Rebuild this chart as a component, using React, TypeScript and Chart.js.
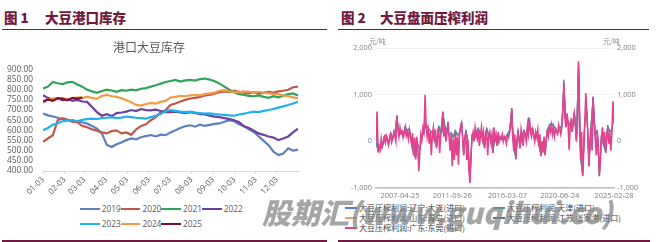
import React, { useEffect, useRef } from "react";
import { Chart, registerables } from "chart.js";

Chart.register(...registerables);

// ---------------- Figure 1: 港口大豆库存 (weekly, day offset from 01-03) ----------------
const inventoryTitle = "港口大豆库存";
const inventoryDays = [
  0, 7, 14, 21, 28, 35, 42, 49, 56, 63, 70, 77, 84, 91, 98, 105, 112, 119, 126, 133,
  140, 147, 154, 161, 168, 175, 182, 189, 196, 203, 210, 217, 224, 231, 238, 245, 252,
  259, 266, 273, 280, 287, 294, 301, 308, 315, 322, 329, 336, 343, 350, 357, 364,
];
const monthTickDays = [0, 31, 59, 90, 120, 151, 181, 212, 243, 273, 304, 334];
const monthTickLabels = ["01-03", "02-03", "03-03", "04-03", "05-03", "06-03", "07-03", "08-03", "09-03", "10-03", "11-03", "12-03"];
const inventoryYears = ["2019", "2020", "2021", "2022", "2023", "2024", "2025"];

const inv2019 = [
  683, 674, 668, 662, 655, 651, 648, 644, 640, 633,
  622, 608, 585, 528, 518, 532, 540, 552, 560, 556,
  566, 572, 577, 570, 579, 576, 590, 600, 612, 620,
  625, 618, 628, 622, 627, 632, 634, 642, 650, 645,
  630, 620, 605, 592, 570, 548, 527, 495, 478, 486,
  512, 500, 505,
];
const inv2020 = [
  543, 560, 576, 650, 660, 652, 642, 640, 622, 615,
  605, 598, 590, 585, 596, 600, 585, 590, 578, 605,
  622, 630, 650, 665, 688, 700, 725, 732, 742, 750,
  757, 760, 765, 772, 775, 780, 788, 792, 788, 795,
  790, 785, 782, 788, 780, 785, 790, 786, 792, 795,
  800, 812, 815,
];
const inv2021 = [
  806, 815, 838, 832, 828, 836, 839, 826, 815, 800,
  792, 785, 794, 800, 796, 790, 798, 795, 800, 797,
  805, 808, 815, 822, 830, 838, 843, 848, 840, 846,
  848, 845, 852, 855, 850, 842, 830, 815, 800, 788,
  778, 775, 770, 768, 772, 765, 760, 768, 762, 770,
  778, 782, 772,
];
const inv2022 = [
  773, 760, 752, 758, 748, 755, 745, 750, 742, 740,
  715, 690, 672, 680, 670, 685, 688, 692, 700, 695,
  705, 700, 698, 702, 695, 690, 690, 692, 688, 685,
  690, 686, 680, 678, 672, 668, 665, 660, 655, 650,
  640, 620, 612, 598, 585, 578, 570, 565, 552, 560,
  570, 590, 608,
];
const inv2023 = [
  601, 612, 628, 635, 645, 648, 650, 645, 652, 655,
  658, 656, 660, 662, 665, 660, 663, 668, 665, 662,
  660, 658, 665, 672, 680, 695, 700, 696, 692, 690,
  692, 688, 685, 682, 684, 680, 678, 676, 674, 672,
  678, 682, 688, 692, 690, 696, 700, 705, 712, 718,
  725, 732, 740,
];
const inv2024 = [
  745, 752, 758, 755, 760, 752, 758, 762, 760, 765,
  760, 755, 770, 775, 768, 765, 758, 748, 738, 725,
  722, 730, 735, 732, 740, 745, 762, 765, 770, 768,
  772, 775, 772, 778, 782, 786, 795, 798, 792, 790,
  788, 792, 790, 786, 790, 785, 782, 780, 778, 772,
  768, 762, 758,
];
const inv2025 = [740, 752, 745, 758, 755, 748, 760, 755, 762];
const inventoryValues = [inv2019, inv2020, inv2021, inv2022, inv2023, inv2024, inv2025];
const inventoryColors = ["#5b7fbf", "#c0584a", "#2fa35a", "#7040a0", "#1fb0ee", "#f39a4a", "#7a0f35"];

// ---------------- Figure 2: 大豆盘面压榨利润 (元/吨) ----------------
const profitTickIndex = [23, 73, 126, 176, 228];
const profitTickLabels = ["2007-04-25", "2011-09-26", "2016-03-07", "2020-06-24", "2025-02-28"];
const profitNames = [
  "大豆压榨利润:辽宁:大连(进口)",
  "大豆压榨利润:天津(进口)",
  "大豆压榨利润:山东:青岛(进口)",
  "大豆压榨利润:江苏:张家港(进口)",
  "大豆压榨利润:广东:东莞(进口)",
];
// 广东:东莞 — every period
const profitDongguan = [
  0, 640, -240, -100, -180, 50, -120, -50, 80, -30,
  100, 20, -80, 60, 150, -20, 50, 200, 120, 0,
  535, 250, 100, 300, 180, 220, 80, 150, 300, 120,
  200, 50, 250, 100, -50, 180, -300, 80, -390, 100,
  -100, -640, -200, 150, 50, 300, 200, 1000, 350, 100,
  250, -50, 200, -300, 150, 300, 0, 250, -150, 100,
  300, -250, 150, 200, 640, 100, 300, 0, 200, 425,
  100, -200, 150, -535, 50, -400, 200, -300, 100, -500,
  150, 300, 390, 100, -300, 50, 200, -400, 0, -600,
  -890, -300, 100, 200, 0, 300, 150, 50, 250, -100,
  100, 300, 50, 200, -150, 100, 250, -300, 100, 200,
  0, 150, -250, 300, 50, 150, -100, 200, 0, 100,
  50, 150, 0, 100, 50, -50, 120, 80, 200, 300,
  715, 100, -200, 150, -390, 0, 200, 50, -150, 250,
  100, -100, 200, 150, 0, 300, 150, 500, 200, 100,
  250, 150, 0, 200, 100, 250, -100, 150, -320, 0,
  -200, 100, -300, 50, 200, 100, 300, 200, 350, 150,
  300, 100, 250, 200, 150, 350, 250, 150, 300, 600,
  1250, 500, 300, 600, 400, -180, 300, 500, 200, 450,
  600, 350, 0, 300, 1715, 500, -390, 200, -750, -200,
  400, 1035, 600, 200, -535, 0, 300, -200, 930, 400,
  100, -300, 200, -100, -750, -400, 100, 300, -100, 200,
  -250, 100, 300, -50, 178, -200, 200, 860, 600,
];
// other ports — every second period
const profitDalian = [
  20, -200, -150, -80, 120, 150, -40, 200, 90, 160,
  560, 150, 220, 120, 330, 240, 280, 0, -250, -330,
  -60, -150, 100, 250, 380, 290, 250, 200, 50, -100,
  340, 200, 600, 340, 250, 150, 200, 100, 250, 150,
  200, 420, -250, 250, 50, -820, 150, 50, 200, 300,
  150, 100, -100, 300, 150, 50, -200, 100, -50, 50,
  100, 60, 100, 170, 250, 650, -150, -330, 250, -100,
  160, 250, 60, 500, 250, 300, 50, 160, -50, -280,
  -150, -250, 250, 350, 400, 350, 300, 200, 300, 350,
  1320, 350, 450, 350, 250, 650, 50, 1680, -350, -700,
  450, 650, -480, 350, 960, 150, 250, -700, 150, -50,
  -200, 350, 220, 250, 640,
];
const profitTianjin = [
  -20, -220, -170, -100, 100, 120, -60, 170, 70, 140,
  510, 120, 200, 100, 310, 220, 260, -30, -280, -360,
  -80, -180, 70, 220, 360, 270, 220, 170, 20, -130,
  320, 170, 620, 320, 220, 120, 170, 70, 220, 120,
  170, 400, -280, 220, 20, -860, 120, 20, 170, 270,
  120, 70, -130, 270, 120, 20, -230, 70, -80, 20,
  70, 20, 70, 140, 220, 690, -180, -360, 220, -130,
  120, 220, 20, 520, 220, 270, 20, 120, -80, -300,
  -180, -280, 220, 320, 370, 320, 270, 170, 270, 320,
  1230, 320, 420, 320, 220, 620, 20, 1700, -370, -730,
  420, 620, -510, 320, 940, 120, 220, -730, 120, -80,
  -230, 320, 190, 220, 620,
];
const profitQingdao = [
  10, -230, -190, -110, 90, 110, -70, 160, 60, 130,
  520, 110, 190, 90, 290, 210, 240, -40, -290, -370,
  -90, -190, 60, 210, 340, 260, 210, 160, 10, -140,
  310, 160, 630, 310, 210, 110, 160, 60, 210, 110,
  160, 380, -290, 210, 10, -870, 110, 10, 160, 260,
  110, 60, -140, 260, 110, 10, -240, 60, -90, 10,
  60, 10, 60, 130, 210, 700, -190, -370, 210, -140,
  110, 210, 10, 480, 210, 260, 10, 110, -90, -310,
  -190, -290, 210, 310, 360, 310, 260, 160, 260, 310,
  1240, 310, 410, 310, 210, 610, 10, 1710, -380, -740,
  410, 610, -520, 310, 950, 110, 210, -740, 110, -90,
  -240, 310, 180, 210, 610,
];
const profitZhangjiagang = [
  0, -210, -160, -90, 110, 130, -50, 180, 80, 150,
  540, 130, 210, 110, 320, 230, 270, -20, -270, -350,
  -70, -170, 80, 230, 370, 280, 230, 180, 30, -120,
  330, 180, 610, 330, 230, 130, 180, 80, 230, 130,
  180, 410, -270, 230, 30, -850, 130, 30, 180, 280,
  130, 80, -120, 280, 130, 30, -220, 80, -70, 30,
  80, 30, 80, 150, 230, 680, -170, -350, 230, -120,
  130, 230, 30, 490, 230, 280, 30, 130, -70, -290,
  -170, -270, 230, 330, 380, 330, 280, 180, 280, 330,
  1260, 330, 430, 330, 230, 630, 30, 1700, -360, -720,
  430, 630, -500, 330, 950, 130, 230, -720, 130, -70,
  -220, 330, 200, 230, 630,
];
const profitValues = [profitDalian, profitTianjin, profitQingdao, profitZhangjiagang, profitDongguan];
const profitSampleStep = [2, 2, 2, 2, 1];
const profitColors = ["#5a7fc0", "#3aa0a8", "#e8a064", "#5a6a8e", "#e3428f"];
const profitLineWidth = [1, 1, 1, 1, 1.6];
const profitOrder = [0, 1, 2, 3, -1];
const legendRows = [[0, 1], [2, 3], [4]];

const CJK = '"Noto Sans CJK SC", "Noto Sans", sans-serif';
const NUM = '"Open Sans", "Noto Sans", sans-serif';
const MAROON = "#701a40";

export default function App() {
  const leftRef = useRef<HTMLCanvasElement>(null);
  const rightRef = useRef<HTMLCanvasElement>(null);

  useEffect(() => {
    const left = new Chart(leftRef.current as HTMLCanvasElement, {
      type: "line",
      data: {
        datasets: inventoryYears.map((year, k) => ({
          label: year,
          data: inventoryValues[k].map((v, i) => ({ x: inventoryDays[i], y: v })),
          borderColor: inventoryColors[k],
          backgroundColor: inventoryColors[k],
          borderWidth: 2.2,
          pointRadius: 0,
          tension: 0,
          order: -k,
        })),
      },
      options: {
        animation: false,
        responsive: false,
        maintainAspectRatio: false,
        layout: { padding: { left: 0, right: 29, top: 0, bottom: 0 } },
        plugins: {
          legend: { display: false },
          tooltip: { enabled: false },
          title: {
            display: true,
            text: inventoryTitle,
            color: "#595959",
            font: { family: CJK, size: 12, weight: "normal" },
            padding: { top: 8, bottom: 15 },
          },
        },
        scales: {
          x: {
            type: "linear",
            min: 0,
            max: 364,
            afterBuildTicks: (s: any) => {
              s.ticks = monthTickDays.map((v) => ({ value: v }));
            },
            afterFit: (s: any) => {
              s.height = 30;
            },
            ticks: {
              autoSkip: false,
              minRotation: 45,
              maxRotation: 45,
              padding: 1,
              color: "#595959",
              font: { family: NUM, size: 8 },
              callback: (v: any) => monthTickLabels[monthTickDays.indexOf(Number(v))] ?? "",
            },
            grid: { display: true, drawOnChartArea: false, drawTicks: true, tickLength: 3, color: "#d9d9d9" },
            border: { display: true, color: "#d9d9d9" },
          },
          y: {
            min: 400,
            max: 900,
            afterFit: (s: any) => {
              s.width = 43;
            },
            ticks: {
              stepSize: 50,
              autoSkip: false,
              padding: 10,
              color: "#595959",
              font: { family: NUM, size: 8.3 },
              callback: (v: any) => Number(v).toFixed(2),
            },
            grid: { display: false, drawTicks: false },
            border: { display: false },
          },
        },
      },
    } as any);

    const right = new Chart(rightRef.current as HTMLCanvasElement, {
      type: "line",
      data: {
        datasets: profitNames.map((name, k) => ({
          label: name,
          data: profitValues[k].map((v, i) => ({ x: i * profitSampleStep[k], y: v })),
          borderColor: profitColors[k],
          backgroundColor: profitColors[k],
          borderWidth: profitLineWidth[k],
          pointRadius: 0,
          tension: 0,
          order: profitOrder[k],
          yAxisID: "y",
        })),
      },
      options: {
        animation: false,
        responsive: false,
        maintainAspectRatio: false,
        layout: { padding: { left: 0, right: 0, top: 12, bottom: 0 } },
        plugins: { legend: { display: false }, tooltip: { enabled: false } },
        scales: {
          x: {
            type: "linear",
            min: 0,
            max: 228,
            afterBuildTicks: (s: any) => {
              s.ticks = profitTickIndex.map((v) => ({ value: v }));
            },
            afterFit: (s: any) => {
              s.height = 14;
            },
            ticks: {
              autoSkip: false,
              minRotation: 0,
              maxRotation: 0,
              padding: 3,
              color: "#808080",
              font: { family: NUM, size: 7.5 },
              callback: (v: any) => profitTickLabels[profitTickIndex.indexOf(Number(v))] ?? "",
            },
            grid: { display: false, drawTicks: false },
            border: { display: true, color: "#bdbdbd", width: 1.5 },
          },
          y: {
            position: "left",
            min: -1000,
            max: 2000,
            afterFit: (s: any) => {
              s.width = 44;
            },
            ticks: {
              stepSize: 1000,
              autoSkip: false,
              padding: 4,
              color: "#808080",
              font: { family: NUM, size: 7.4 },
              callback: (v: any) => Number(v).toLocaleString("en-US"),
            },
            grid: { display: true, drawTicks: false, color: "#f2f2f2" },
            border: { display: false },
          },
          y2: {
            position: "right",
            min: -1000,
            max: 2000,
            afterFit: (s: any) => {
              s.width = 40;
            },
            ticks: {
              stepSize: 1000,
              autoSkip: false,
              padding: 3,
              color: "#808080",
              font: { family: NUM, size: 7.4 },
              callback: (v: any) => Number(v).toLocaleString("en-US"),
            },
            grid: { display: false, drawTicks: false },
            border: { display: false },
          },
        },
      },
    } as any);

    return () => {
      left.destroy();
      right.destroy();
    };
  }, []);

  const abs = (s: React.CSSProperties): React.CSSProperties => ({ position: "absolute", whiteSpace: "nowrap", ...s });

  return (
    <div style={{ position: "fixed", left: 0, top: 0, width: 664, height: 242, background: "#fff", overflow: "hidden", fontFamily: CJK }}>
      {/* headers */}
      <div style={abs({ left: 4, top: 9, fontSize: 13.5, lineHeight: "16px", fontWeight: 900, color: MAROON })}>图 1</div>
      <div style={abs({ left: 45, top: 9, fontSize: 13.5, lineHeight: "16px", fontWeight: 900, color: MAROON })}>大豆港口库存</div>
      <div style={abs({ left: 341, top: 9, fontSize: 13.5, lineHeight: "16px", fontWeight: 900, color: MAROON })}>图 2</div>
      <div style={abs({ left: 380, top: 9, fontSize: 13.5, lineHeight: "16px", fontWeight: 900, color: MAROON })}>大豆盘面压榨利润</div>
      <div style={abs({ left: 2, top: 28.5, width: 325, height: 1.5, background: MAROON })} />
      <div style={abs({ left: 338, top: 28.5, width: 311, height: 1.5, background: MAROON })} />
      <div style={abs({ left: 2, top: 239.5, width: 325, height: 2, background: MAROON })} />
      <div style={abs({ left: 338, top: 239.5, width: 312, height: 2, background: MAROON })} />

      {/* charts */}
      <canvas ref={leftRef} width={327} height={169} style={{ position: "absolute", left: 0, top: 32, width: 327, height: 169 }} />
      <canvas ref={rightRef} width={322} height={166} style={{ position: "absolute", left: 332, top: 36, width: 322, height: 166 }} />

      {/* unit labels */}
      <div style={abs({ left: 369, top: 37, fontSize: 7, lineHeight: "9px", color: "#8c8c8c" })}>元/吨</div>
      <div style={abs({ left: 603, top: 37, fontSize: 7, lineHeight: "9px", color: "#8c8c8c" })}>元/吨</div>

      {/* left legend */}
      {[[0, 1, 2, 3], [4, 5, 6]].map((row, r) => (
        <div key={r} style={abs({ left: 80, top: 203 + r * 15, display: "flex" })}>
          {row.map((k) => (
            <div key={k} style={{ width: 40.7, height: 12, display: "flex", alignItems: "center" }}>
              <span style={{ display: "inline-block", width: 20, height: 2.5, background: inventoryColors[k] }} />
              <span style={{ marginLeft: 2, fontSize: 8.3, lineHeight: "12px", color: "#595959", fontFamily: NUM }}>{inventoryYears[k]}</span>
            </div>
          ))}
        </div>
      ))}

      {/* right legend */}
      {legendRows.map((row, r) =>
        row.map((k, c) => (
          <div key={k} style={abs({ left: c === 0 ? 345 : 493, top: 203 + r * 10, height: 10, display: "flex", alignItems: "center" })}>
            <span style={{ display: "inline-block", width: 12, height: 2, background: profitColors[k] }} />
            <span style={{ marginLeft: 2, fontSize: 8, lineHeight: "10px", color: "#404040" }}>{profitNames[k]}</span>
          </div>
        ))
      )}

      {/* watermark */}
      <div style={abs({ left: 262, top: 196, fontSize: 29, lineHeight: "31px", fontWeight: 900, fontStyle: "italic", color: "rgba(130,130,130,0.72)", pointerEvents: "none" })}>
        股期汇(www.guqihui.co)
      </div>
    </div>
  );
}
